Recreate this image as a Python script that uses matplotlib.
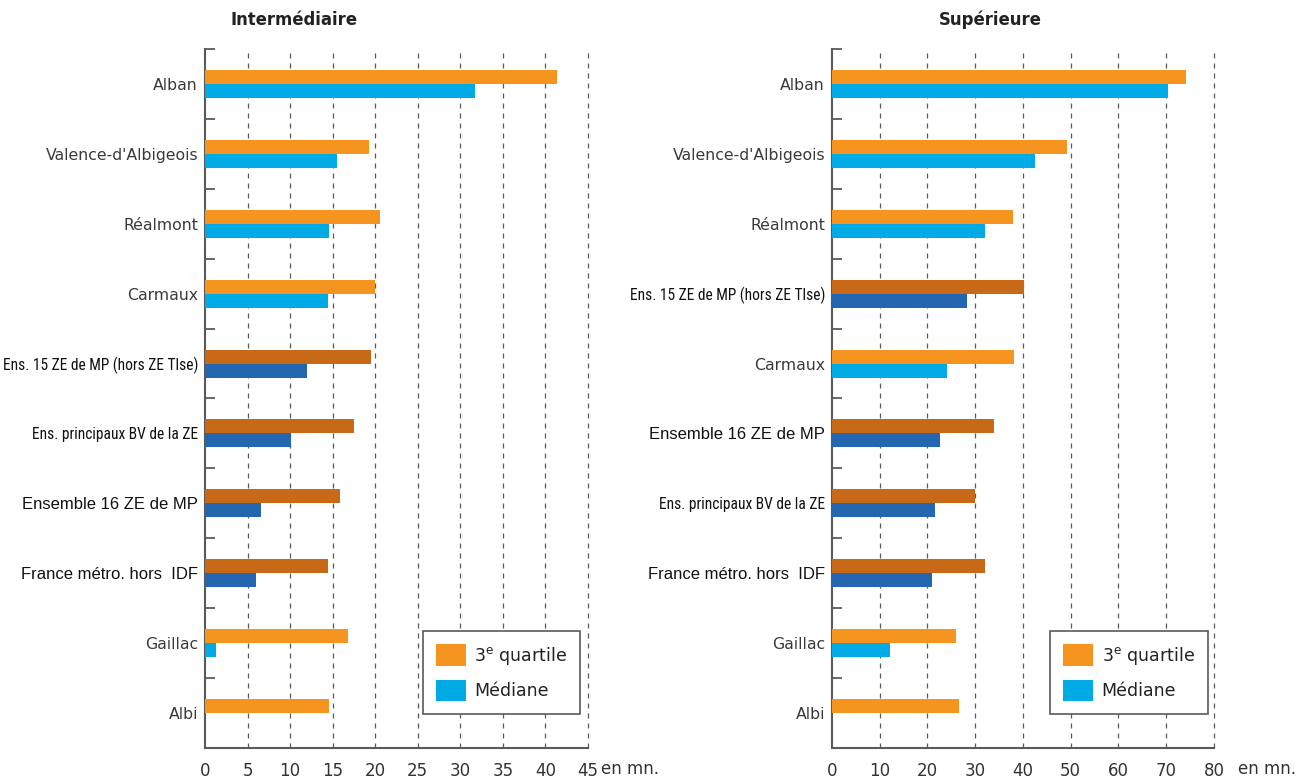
import matplotlib
matplotlib.use("Agg")
import matplotlib.pyplot as plt
from matplotlib import font_manager as fm
from matplotlib.patches import Patch
import numpy as np

# ---------------- data ----------------
cats_int = ["Alban", "Valence-d'Albigeois", "Réalmont", "Carmaux",
            "Ens. 15 ZE de MP (hors ZE Tlse)", "Ens. principaux BV de la ZE",
            "Ensemble 16 ZE de MP", "France métro. hors  IDF", "Gaillac", "Albi"]
q3_int = [41.3, 19.3, 20.6, 20.0, 19.5, 17.5, 15.9, 14.5, 16.8, 14.6]
med_int = [31.7, 15.5, 14.6, 14.4, 12.0, 10.1, 6.6, 6.0, 1.3, 0.0]

cats_sup = ["Alban", "Valence-d'Albigeois", "Réalmont",
            "Ens. 15 ZE de MP (hors ZE Tlse)", "Carmaux",
            "Ensemble 16 ZE de MP", "Ens. principaux BV de la ZE",
            "France métro. hors  IDF", "Gaillac", "Albi"]
q3_sup = [74.1, 49.2, 37.9, 40.3, 38.2, 33.9, 30.0, 32.1, 26.0, 26.6]
med_sup = [70.3, 42.6, 32.1, 28.3, 24.0, 22.6, 21.6, 21.0, 12.2, 0.0]

xticks_int = [0, 5, 10, 15, 20, 25, 30, 35, 40, 45]
xticks_sup = [0, 10, 20, 30, 40, 50, 60, 70, 80]

legend_labels = ["3$^{\\mathrm{e}}$ quartile", "Médiane"]
titles = ["Intermédiaire", "Supérieure"]

aggregates = {"Ens. 15 ZE de MP (hors ZE Tlse)", "Ens. principaux BV de la ZE"}
big_aggregates = {"Ensemble 16 ZE de MP", "France métro. hors  IDF"}

# ---------------- styles ----------------
C_Q3 = "#F5941E"
C_MED = "#00AAE4"
C_Q3_D = "#C86918"
C_MED_D = "#2566B1"
GRAY = "#5a5a5a"


def has_font(name):
    try:
        fm.findfont(fm.FontProperties(family=name), fallback_to_default=False)
        return True
    except Exception:
        return False


narrow = None
for nm in ["Liberation Sans Narrow", "Roboto Condensed", "Open Sans Condensed"]:
    if has_font(nm):
        narrow = nm
        break
if narrow is not None:
    narrow_props = dict(family=narrow, size=11.2)
else:
    narrow_props = dict(family="Liberation Sans", size=9.4)
big_props = dict(family="Liberation Sans", size=12)

plt.rcParams["font.family"] = ["DejaVu Sans"]

W, H = 1311, 778
fig = plt.figure(figsize=(W / 100, H / 100), dpi=100)

top_px, bot_px = 49, 748


def make_panel(left_px, width_px, cats, q3, med, xticks, title, title_x, legend_left_frac, enmn_x):
    ax = fig.add_axes([left_px / W, (H - bot_px) / H, width_px / W, (bot_px - top_px) / H])
    n = len(cats)
    y = np.arange(n)
    agg_mask = [c in aggregates or c in big_aggregates for c in cats]
    col_q3 = [C_Q3_D if a else C_Q3 for a in agg_mask]
    col_med = [C_MED_D if a else C_MED for a in agg_mask]
    ax.barh(y - 0.1, q3, height=0.2, color=col_q3, zorder=3)
    ax.barh(y + 0.1, med, height=0.2, color=col_med, zorder=3)
    ax.set_ylim(n - 0.5, -0.5)
    ax.set_xlim(xticks[0], xticks[-1])

    # grid
    for xv in xticks[1:]:
        ax.axvline(xv, color=GRAY, lw=0.9, ls=(0, (4, 4)), zorder=1, clip_on=False)

    for s in ["top", "right"]:
        ax.spines[s].set_visible(False)
    for s in ["left", "bottom"]:
        ax.spines[s].set_color(GRAY)
        ax.spines[s].set_linewidth(1.5)

    ax.set_xticks(xticks)
    ax.set_xticklabels([str(v) for v in xticks])
    ax.tick_params(axis="x", length=0, pad=10, labelsize=12, labelcolor="#333333")

    ax.set_yticks(y)
    ax.set_yticklabels(cats)
    ax.tick_params(axis="y", which="major", length=0, pad=5, labelsize=11.3, labelcolor="#3a3a3a")
    ax.set_yticks(np.arange(-0.5, n - 0.5, 1.0), minor=True)
    ax.tick_params(axis="y", which="minor", direction="in", length=7.5, width=1.3, color=GRAY)

    for lab in ax.get_yticklabels():
        t = lab.get_text()
        if t in aggregates:
            lab.set_fontfamily(narrow_props["family"])
            lab.set_fontsize(narrow_props["size"])
            lab.set_color("#111111")
        elif t in big_aggregates:
            lab.set_fontfamily(big_props["family"])
            lab.set_fontsize(big_props["size"])
            lab.set_color("#111111")

    handles = [Patch(facecolor=C_Q3, edgecolor="none"), Patch(facecolor=C_MED, edgecolor="none")]
    leg = ax.legend(handles, legend_labels, loc="upper left",
                    bbox_to_anchor=(legend_left_frac, 0.1674), borderaxespad=0,
                    fontsize=12.5, handlelength=1.72, handleheight=1.55,
                    labelspacing=0.75, borderpad=0.75, handletextpad=0.5,
                    fancybox=False, framealpha=1, edgecolor=GRAY)
    leg.get_frame().set_linewidth(1.2)
    leg.set_zorder(5)
    for t in leg.get_texts():
        t.set_color("#222222")

    fig.text(title_x / W, 1 - 20 / H, title, ha="center", va="center",
             fontsize=11.9, fontweight="bold", color="#222222")
    fig.text(enmn_x / W, 1 - 769 / H, "en mn.", ha="left", va="center",
             fontsize=12, color="#333333")
    return ax


make_panel(205, 383, cats_int, q3_int, med_int, xticks_int, titles[0], 294, 0.569, 601)
make_panel(832, 382, cats_sup, q3_sup, med_sup, xticks_sup, titles[1], 990, 0.571, 1238)

fig.savefig("out.png", dpi=100)
